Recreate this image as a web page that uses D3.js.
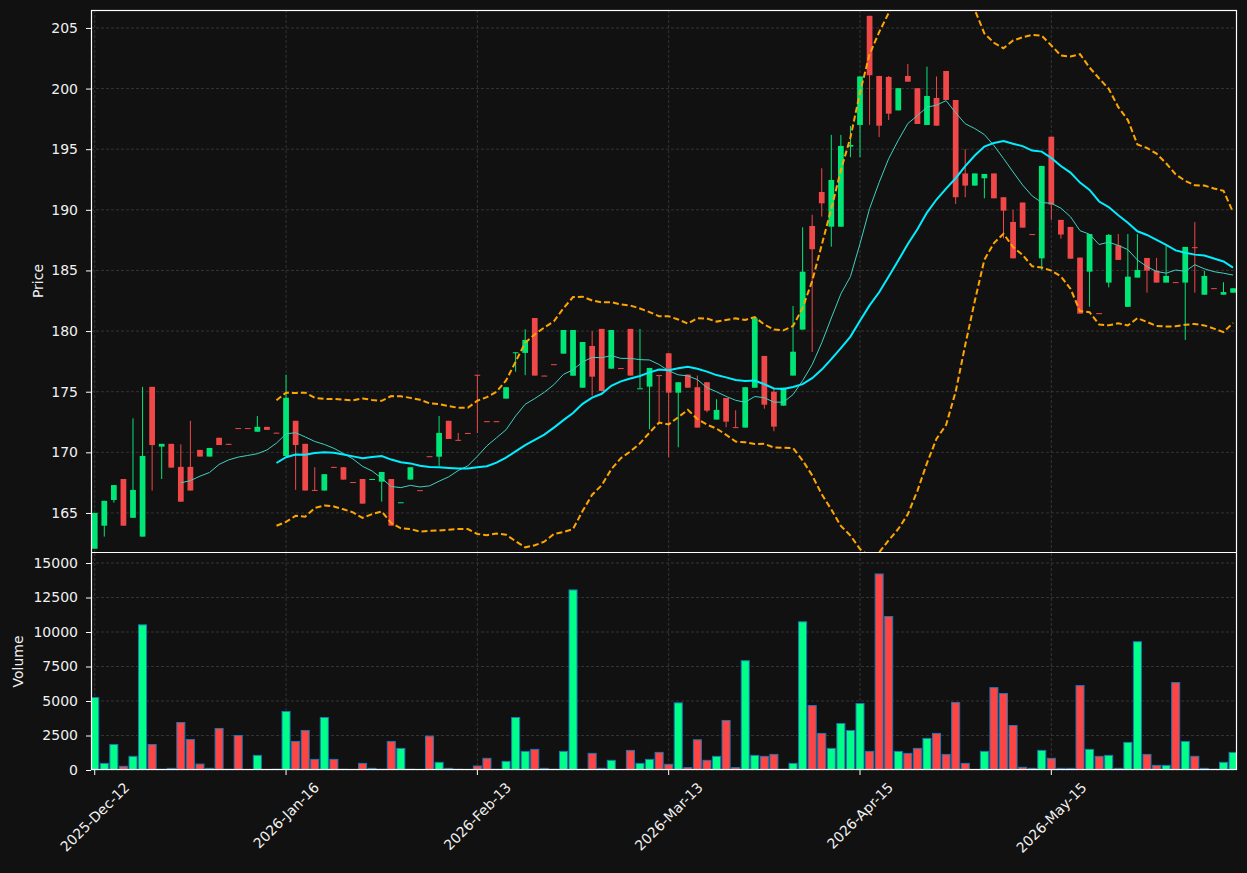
<!DOCTYPE html>
<html>
<head>
<meta charset="utf-8">
<script src="https://cdn.jsdelivr.net/npm/d3@7"></script>
<style>
  html, body { margin: 0; padding: 0; background: #111111; }
  svg { display: block; }
</style>
</head>
<body>
<div id="chart"></div>
<script>
// ---- data ----
const opens = [162.05,163.95,166.07,167.8,164.6,163.05,175.4,170.47,170.7,168.8,
  168.8,170.2,169.65,171.2,170.7,172.0,172.0,171.7,172.1,171.62,
  169.7,172.6,170.7,166.9,166.85,168.8,168.77,167.55,167.8,167.78,
  167.58,167.8,165.86,167.75,166.88,169.68,169.64,172.6,171.03,171.6,
  176.4,172.57,172.57,174.43,178.2,178.2,181.08,176.33,177.27,178.14,
  176.32,175.33,178.77,180.18,176.9,176.95,180.18,175.26,175.42,176.37,
  178.17,174.92,176.41,175.37,175.78,172.7,174.48,172.08,172.04,175.33,
  177.95,175.0,173.85,176.33,180.12,188.67,191.47,188.61,188.61,195.21,
  197.0,206.0,201.04,200.96,198.2,201.04,200.03,197.0,199.23,201.45,
  199.06,193.0,192.0,192.6,193.0,191.04,189.0,190.6,188.0,186.0,
  196.03,189.17,188.59,186.06,184.9,181.48,184.0,187.08,182.0,184.41,
  186.03,184.98,184.0,184.04,184.0,186.92,183.0,183.54,183.0,183.17];
const highs = [165.0,166.0,167.3,167.8,172.8,175.4,175.4,170.7,170.7,170.66,
  172.6,170.2,170.36,171.2,170.7,172.0,172.0,173.0,172.1,171.62,
  176.4,172.6,170.7,168.77,168.2,168.8,168.77,167.55,167.8,167.8,
  168.38,167.8,165.88,168.77,166.88,169.68,173.0,172.6,171.6,171.6,
  176.4,172.57,172.57,175.37,178.25,180.15,181.08,176.33,177.27,180.09,
  180.09,179.1,180.0,180.18,180.09,176.95,180.18,180.18,176.96,176.37,
  178.17,175.78,176.41,176.33,175.78,174.38,174.48,173.47,175.37,181.06,
  177.95,175.28,175.33,182.07,188.56,189.6,193.43,196.18,196.18,196.92,
  201.0,206.0,201.04,201.04,200.03,202.03,200.03,201.8,201.0,201.45,
  199.06,195.0,193.0,192.96,193.0,191.04,190.0,190.6,188.0,193.62,
  196.03,189.17,188.59,186.06,188.0,181.48,188.0,188.0,188.0,188.0,
  186.03,186.03,187.02,184.04,186.94,188.98,184.98,183.54,184.03,183.53];
const lows = [162.05,163.05,165.85,163.95,164.6,163.05,166.85,167.8,168.74,165.93,
  166.85,169.65,169.65,170.6,170.65,171.97,171.98,171.7,171.85,171.6,
  169.7,166.9,166.85,166.88,166.85,168.75,167.75,167.52,165.77,167.78,
  165.93,163.95,165.86,167.75,166.86,169.66,168.88,171.1,171.0,171.58,
  171.6,172.55,172.55,174.43,176.65,176.36,176.33,176.3,177.25,178.14,
  176.32,175.33,174.67,175.06,176.9,176.92,176.33,175.26,171.9,172.34,
  169.6,170.42,175.33,172.04,173.3,172.7,172.07,172.06,172.04,175.33,
  173.6,171.74,173.85,176.33,180.12,178.28,189.44,186.96,188.61,194.34,
  194.34,197.0,196.0,197.4,198.2,200.57,197.08,197.0,196.94,199.06,
  190.48,191.04,192.0,190.95,190.95,187.65,186.0,188.53,187.97,185.04,
  189.17,187.62,185.97,181.44,182.0,181.46,183.6,185.87,182.0,184.41,
  183.17,184.0,184.0,184.02,179.27,183.17,183.0,183.52,183.0,183.17];
const closes = [165.0,166.0,167.3,163.95,166.9,169.7,170.6,170.7,168.74,165.93,
  166.85,169.65,170.36,170.6,170.65,171.97,171.98,172.1,171.85,171.6,
  174.5,170.6,166.85,166.88,168.2,168.75,167.75,167.52,165.77,167.8,
  168.38,163.95,165.88,168.77,166.86,169.66,171.6,171.1,171.0,171.58,
  176.35,172.55,172.55,175.37,178.25,179.27,176.33,176.3,177.25,180.09,
  180.09,179.1,176.24,175.06,180.09,176.92,176.33,175.28,176.96,176.35,
  174.92,175.78,175.33,172.04,173.44,173.5,172.53,172.06,175.37,181.06,
  173.93,172.12,175.33,178.3,184.9,186.75,190.54,192.46,195.27,195.35,
  201.0,201.1,196.94,197.93,200.03,200.57,197.08,199.39,196.94,199.06,
  191.04,192.0,193.0,192.96,190.95,189.93,186.0,188.53,187.97,193.62,
  190.43,187.96,185.97,181.44,188.0,181.46,187.93,185.87,184.49,185.04,
  184.98,184.0,184.55,184.02,186.94,186.9,184.55,183.52,183.22,183.53];
const volumes = [5250,480,1850,265,990,10520,1850,50,120,3440,
  2215,430,120,3010,50,2500,25,1060,20,50,
  4240,2070,2865,770,3805,770,50,20,480,120,
  50,2070,1565,50,10,2455,555,120,50,20,
  290,845,50,625,3805,1350,1495,120,50,1350,
  13050,50,1205,120,700,20,1420,480,770,1275,
  410,4865,170,2190,700,990,3590,170,7920,1060,
  990,1130,50,480,10740,4670,2650,1565,3370,2865,
  4815,1350,14205,11125,1350,1205,1565,2290,2650,1130,
  4890,480,20,1350,5970,5540,3225,195,120,1420,
  845,120,120,6115,1495,990,1060,120,2000,9295,
  1130,335,335,6335,2070,990,120,50,555,1275];
const tickIndex = [0, 20, 40, 60, 80, 100];
const tickLabels = ['2025-Dec-12', '2026-Jan-16', '2026-Feb-13', '2026-Mar-13', '2026-Apr-15', '2026-May-15'];
const priceTicks = [165, 170, 175, 180, 185, 190, 195, 200, 205];
const volumeTicks = [0, 2500, 5000, 7500, 10000, 12500, 15000];

// ---- layout ----
const W = 1247, H = 873;
const PLOT = { left: 91, right: 1237, priceTop: 10, priceBottom: 552, volTop: 553, volBottom: 770 };
const FONT = '"DejaVu Sans", sans-serif';
const FS = 14;
const C = {
  bg: '#111111', up: '#00e676', down: '#f04848', volUp: '#00ff88', volDown: '#ff4444',
  volEdge: '#1f77b4', ma10: '#40d0c0', ma20: '#00eeff', band: '#ffa500',
  grid: '#3c3c3c', axis: '#ffffff', text: '#f0f0f0'
};

const n = closes.length;
const bars = closes.map((c, i) => ({ i, o: opens[i], h: highs[i], l: lows[i], c, v: volumes[i] }));

// rolling indicators from the closes
function rolling(win, fn) {
  return bars.map((d, i) => i < win - 1 ? null : { i, v: fn(closes.slice(i - win + 1, i + 1)) })
    .filter(Boolean);
}
const ma10 = rolling(10, d3.mean);
const ma20 = rolling(20, d3.mean);
const upper = rolling(20, s => d3.mean(s) + 2 * d3.deviation(s));
const lower = rolling(20, s => d3.mean(s) - 2 * d3.deviation(s));

const x = d3.scaleLinear().domain([-0.39, n - 1 + 0.41]).range([PLOT.left, PLOT.right]);
const yP = d3.scaleLinear().domain([161.78, 206.48]).range([PLOT.priceBottom, PLOT.priceTop]);
const yV = d3.scaleLinear().domain([0, 15725]).range([PLOT.volBottom, PLOT.volTop]);
const step = x(1) - x(0);

const svg = d3.select('#chart').append('svg')
  .attr('width', W).attr('height', H)
  .style('background', C.bg)
  .attr('font-family', FONT);

svg.append('rect').attr('width', W).attr('height', H).attr('fill', C.bg);

const defs = svg.append('defs');
defs.append('clipPath').attr('id', 'clip-price').append('rect')
  .attr('x', PLOT.left).attr('y', PLOT.priceTop)
  .attr('width', PLOT.right - PLOT.left).attr('height', PLOT.priceBottom - PLOT.priceTop);
defs.append('clipPath').attr('id', 'clip-vol').append('rect')
  .attr('x', PLOT.left).attr('y', PLOT.volTop)
  .attr('width', PLOT.right - PLOT.left).attr('height', PLOT.volBottom - PLOT.volTop);

// ---- gridlines ----
const grid = svg.append('g').attr('stroke', C.grid).attr('stroke-width', 0.8).attr('stroke-dasharray', '3,2');
tickIndex.forEach(t => {
  grid.append('line').attr('x1', x(t)).attr('x2', x(t)).attr('y1', PLOT.priceTop).attr('y2', PLOT.priceBottom);
  grid.append('line').attr('x1', x(t)).attr('x2', x(t)).attr('y1', PLOT.volTop).attr('y2', PLOT.volBottom);
});
priceTicks.forEach(p => grid.append('line').attr('x1', PLOT.left).attr('x2', PLOT.right).attr('y1', yP(p)).attr('y2', yP(p)));
volumeTicks.forEach(v => grid.append('line').attr('x1', PLOT.left).attr('x2', PLOT.right).attr('y1', yV(v)).attr('y2', yV(v)));

// ---- candles ----
const priceLayer = svg.append('g').attr('clip-path', 'url(#clip-price)');
const bodyW = step * 0.6;
const candle = priceLayer.selectAll('g.candle').data(bars).join('g').attr('class', 'candle');
candle.append('line')
  .attr('x1', d => x(d.i)).attr('x2', d => x(d.i))
  .attr('y1', d => yP(d.h)).attr('y2', d => yP(d.l))
  .attr('stroke', d => d.c >= d.o ? C.up : C.down).attr('stroke-width', 1);
candle.append('rect')
  .attr('x', d => x(d.i) - bodyW / 2)
  .attr('y', d => yP(Math.max(d.o, d.c)))
  .attr('width', bodyW)
  .attr('height', d => Math.max(1, Math.abs(yP(d.o) - yP(d.c))))
  .attr('fill', d => d.c >= d.o ? C.up : C.down);

// ---- moving averages & bands ----
const line = d3.line().x(d => x(d.i)).y(d => yP(d.v));
[upper, lower].forEach(band => priceLayer.append('path').datum(band).attr('d', line).attr('fill', 'none')
  .attr('stroke', C.band).attr('stroke-width', 2).attr('stroke-dasharray', '6,3'));
priceLayer.append('path').datum(ma10).attr('d', line).attr('fill', 'none')
  .attr('stroke', C.ma10).attr('stroke-width', 1);
priceLayer.append('path').datum(ma20).attr('d', line).attr('fill', 'none')
  .attr('stroke', C.ma20).attr('stroke-width', 2);

// ---- volume ----
const volW = step * 0.84;
svg.append('g').attr('clip-path', 'url(#clip-vol)')
  .selectAll('rect').data(bars).join('rect')
  .attr('x', d => x(d.i) - volW / 2)
  .attr('y', d => yV(d.v))
  .attr('width', volW)
  .attr('height', d => yV(0) - yV(d.v))
  .attr('fill', d => d.c >= d.o ? C.volUp : C.volDown)
  .attr('stroke', C.volEdge).attr('stroke-width', 1);

// ---- axes ----
function styleAxis(g) {
  g.select('.domain').remove();
  g.selectAll('.tick line').attr('stroke', C.axis);
  g.selectAll('.tick text').attr('fill', C.text).attr('font-size', FS).attr('font-family', FONT);
}
svg.append('g').attr('transform', `translate(${PLOT.left},0)`)
  .call(d3.axisLeft(yP).tickValues(priceTicks).tickSize(5).tickPadding(8).tickFormat(d3.format('d')))
  .call(styleAxis);
svg.append('g').attr('transform', `translate(${PLOT.left},0)`)
  .call(d3.axisLeft(yV).tickValues(volumeTicks).tickSize(5).tickPadding(8).tickFormat(d3.format('d')))
  .call(styleAxis);

const xAxis = svg.append('g');
tickIndex.forEach((t, k) => {
  const tx = x(t);
  xAxis.append('line').attr('x1', tx).attr('x2', tx)
    .attr('y1', PLOT.volBottom).attr('y2', PLOT.volBottom + 5).attr('stroke', C.axis);
  const label = xAxis.append('text')
    .attr('fill', C.text).attr('font-size', FS)
    .attr('text-anchor', 'middle').attr('dominant-baseline', 'central')
    .text(tickLabels[k]);
  const w = label.node().getComputedTextLength();
  const cy = PLOT.volBottom + 10 + (w + FS) * Math.SQRT1_2 / 2;
  label.attr('transform', `translate(${tx},${cy}) rotate(-45)`);
});

// ---- panel borders ----
const border = svg.append('g').attr('fill', 'none').attr('stroke', C.axis).attr('stroke-width', 1.2);
border.append('rect').attr('x', PLOT.left + 0.5).attr('y', PLOT.priceTop + 0.5)
  .attr('width', PLOT.right - PLOT.left - 1).attr('height', PLOT.volBottom - PLOT.priceTop - 1);
border.append('line').attr('x1', PLOT.left).attr('x2', PLOT.right)
  .attr('y1', PLOT.priceBottom + 0.5).attr('y2', PLOT.priceBottom + 0.5);

// ---- axis titles ----
svg.append('text').attr('transform', `translate(38,${(PLOT.priceTop + PLOT.priceBottom) / 2}) rotate(-90)`)
  .attr('text-anchor', 'middle').attr('dominant-baseline', 'central')
  .attr('fill', C.text).attr('font-size', FS).text('Price');
svg.append('text').attr('transform', `translate(18,${(PLOT.volTop + PLOT.volBottom) / 2}) rotate(-90)`)
  .attr('text-anchor', 'middle').attr('dominant-baseline', 'central')
  .attr('fill', C.text).attr('font-size', FS).text('Volume');
</script>
</body>
</html>
